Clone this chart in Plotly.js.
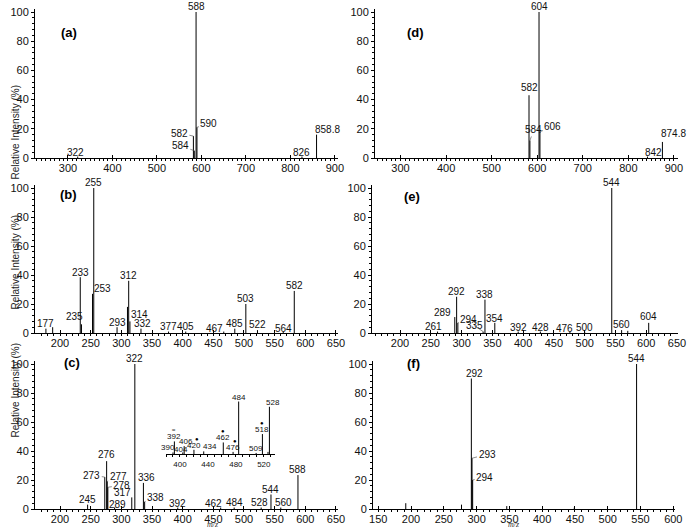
<!DOCTYPE html>
<html>
<head>
<meta charset="utf-8">
<script src="https://cdn.plot.ly/plotly-3.0.1.min.js"></script>
<style>
  body { margin: 0; background: #fff; }
  #plot { width: 691px; height: 529px; }
</style>
</head>
<body>
<div id="plot"></div>
<script>
// peak lists (m/z, relative intensity %, label)
const aMz = [322, 582, 584, 588, 590, 826, 858.8];
const aInt = [1, 15, 5, 100, 21, 1, 16];
const aLab = ['322', '582', '584', '588', '590', '826', '858.8'];

const dMz = [582, 584, 604, 606, 842, 874.8];
const dInt = [43, 12, 100, 18, 1, 11];
const dLab = ['582', '584', '604', '606', '842', '874.8'];

const bMz = [177, 188, 233, 235, 253, 255, 293, 310, 312, 314, 332, 377, 405, 467, 485, 503, 522, 564, 582];
const bInt = [3, 4, 38.5, 6, 27, 100, 4, 18, 36, 8, 3, 1, 1, 1, 3, 20, 2, 1, 29];
const bLab = ['177', '', '233', '235', '253', '255', '293', '', '312', '314', '332', '377', '405', '467', '485', '503', '522', '564', '582'];

const eMz = [261, 289, 292, 294, 335, 338, 354, 392, 428, 476, 500, 544, 560, 570, 604];
const eInt = [1, 11, 25, 7, 1, 23, 7, 1, 1, 1, 1, 100, 2, 1.5, 7];
const eLab = ['261', '289', '292', '294', '335', '338', '354', '392', '428', '476', '500', '544', '560', '', '604'];

const cMz = [245, 273, 276, 277, 278, 289, 317, 322, 336, 338, 392, 462, 484, 528, 544, 560, 588];
const cInt = [3, 22, 33, 19, 15, 1, 8, 100, 18, 5, 1, 1, 1, 1, 10, 1, 23.4];
const cLab = ['245', '273', '276', '277', '278', '289', '317', '322', '336', '338', '392', '462', '484', '528', '544', '560', '588'];

const fMz = [192, 277, 292, 293, 294, 346, 449, 544];
const fInt = [4, 3, 90, 35, 20, 2, 1, 100];
const fLab = ['', '', '292', '293', '294', '', '', '544'];

// zoomed inset of (c)
const insetMz = [390, 392, 404, 406, 420, 434, 462, 476, 484, 509, 518, 526, 528];
const insetInt = [3, 24, 3, 15, 8, 5, 22, 4, 100, 2, 38, 4, 90];
const insetLab = ['390', '392', '404', '406', '420', '434', '462', '476', '484', '509', '518', '', '528'];
const insetMarks = {'392': '\u2248', '420': '\u25CF', '462': '\u25CF', '476': '\u25CF', '518': '\u25CF'};
const insetTicks = [400, 440, 480, 520];

// label nudges in pixels: dx/dy plain shift, ax/ay = leader line
const aShift = {'322': {dx: -2, dy: -1}, '582': {ax: -14, ay: -3}, '584': {ax: -14, ay: -5}, '590': {ax: 12, ay: -4}, '826': {dy: -1}, '858.8': {dx: 11}};
const dShift = {'582': {dy: 2}, '584': {ax: 4, ay: -11}, '606': {ax: 13, ay: -5}, '842': {dx: 6, dy: -1}, '874.8': {dx: 11, dy: 3}};
const bShift = {'233': {dy: -1}, '235': {dx: -7, dy: 2}, '253': {dx: 10}, '293': {dy: -1}, '314': {dx: 10, dy: 1}, '332': {dx: 2}, '467': {dx: -9, dy: -2}, '564': {dy: -2}};
const eShift = {'261': {dx: -4}, '289': {dx: -12, dy: -1}, '294': {ax: 11, ay: -3}, '335': {ax: -9, ay: -6}, '354': {dy: -1}, '392': {dy: -1}, '428': {dy: -1}, '476': {dx: -5, dy: -2}, '500': {dy: -1}, '604': {dy: 1}};
const cShift = {'273': {ax: -13, ay: -2}, '276': {dy: 1}, '277': {ax: 11, ay: -5}, '278': {ax: 14, ay: -2}, '289': {dx: 3, dy: -2}, '317': {dx: -9, dy: -1}, '336': {dx: 3}, '338': {ax: 11, ay: -4}, '392': {dy: -1}, '462': {dx: -7, dy: -1}, '528': {dx: -2}, '560': {dx: 3}};
const fShift = {'292': {dx: 3}, '293': {ax: 15, ay: -4}, '294': {ax: 12, ay: -3}};
const insetShift = {'390': {dx: -5}, '404': {dx: -2, dy: -2}, '406': {dx: 2}, '434': {dx: 6}, '528': {dx: 4}};

const W = 691, H = 529;
const FONT = 'Arial, "Liberation Sans", sans-serif';

function xDom(l, r) { return [l / W, r / W]; }
function yDom(top, bottom) { return [1 - bottom / H, 1 - top / H]; }
function axName(p, n) { return p + (n > 1 ? n : ''); }

const panels = [
  {tag: '(a)', n: 1, mz: aMz, it: aInt, lab: aLab, shift: aShift, xr: [226, 907], xpx: [35, 338], y0: 158, y100: 12, dtick: 100, tagAt: [59, 23], ytitle: 84},
  {tag: '(d)', n: 2, mz: dMz, it: dInt, lab: dLab, shift: dShift, xr: [244, 909], xpx: [375, 678], y0: 158, y100: 12, dtick: 100, tagAt: [415, 23]},
  {tag: '(b)', n: 3, mz: bMz, it: bInt, lab: bLab, shift: bShift, xr: [159.2, 653.3], xpx: [35, 338], y0: 333, y100: 188, dtick: 50, tagAt: [58, 195], ytitle: 263},
  {tag: '(e)', n: 4, mz: eMz, it: eInt, lab: eLab, shift: eShift, xr: [154.5, 651.6], xpx: [372, 678], y0: 333, y100: 188, dtick: 50, tagAt: [412, 196]},
  {tag: '(c)', n: 5, mz: cMz, it: cInt, lab: cLab, shift: cShift, xr: [159.2, 653.3], xpx: [35, 338], y0: 509, y100: 364, dtick: 50, tagAt: [62, 372], ytitle: 440},
  {tag: '(f)', n: 6, mz: fMz, it: fInt, lab: fLab, shift: fShift, xr: [142, 602.6], xpx: [373, 675], y0: 509, y100: 364, dtick: 50, tagAt: [413, 373]}
];

function stems(mz, it, n) {
  const x = [], y = [];
  mz.forEach((m, i) => { x.push(m, m, null); y.push(0, it[i], null); });
  return {x: x, y: y, type: 'scatter', mode: 'lines', line: {color: '#000', width: 1},
          xaxis: axName('x', n), yaxis: axName('y', n), hoverinfo: 'skip'};
}

function peakNotes(mz, it, lab, shift, n, size, base) {
  const out = [];
  lab.forEach((t, i) => {
    if (!t) return;
    const s = shift[t] || {};
    const note = {x: mz[i], y: it[i], xref: axName('x', n), yref: axName('y', n), text: t,
                  font: {family: FONT, size: size, color: '#111'}};
    if (s.ax !== undefined) {
      Object.assign(note, {showarrow: true, arrowhead: 0, arrowwidth: 0.6, arrowcolor: '#444',
                           ax: s.ax, ay: s.ay, standoff: 0});
    } else {
      Object.assign(note, {showarrow: false, yanchor: 'bottom', xshift: s.dx || 0, yshift: base + (s.dy || 0)});
    }
    out.push(note);
  });
  return out;
}

const data = [];
const layout = {
  width: W, height: H,
  margin: {l: 0, r: 0, t: 0, b: 0},
  paper_bgcolor: '#fff', plot_bgcolor: 'rgba(0,0,0,0)',
  showlegend: false,
  font: {family: FONT, color: '#111'},
  annotations: []
};

const axisBase = {
  showline: true, linecolor: '#000', linewidth: 1,
  ticks: 'outside', ticklen: 3, tickcolor: '#000', tickwidth: 1,
  showgrid: false, zeroline: false, fixedrange: true,
  tickfont: {family: FONT, size: 11, color: '#111'}
};

panels.forEach(p => {
  data.push(stems(p.mz, p.it, p.n));
  const top = p.y0 - (p.y0 - p.y100) * 1.02;
  layout[axName('xaxis', p.n)] = Object.assign({}, axisBase, {
    domain: xDom(p.xpx[0], p.xpx[1]), range: p.xr, anchor: axName('y', p.n),
    tick0: 0, dtick: p.dtick, ticks: 'inside', ticklen: 3,
    minor: {ticks: 'outside', ticklen: 2, dtick: 10, tickcolor: '#000'}
  });
  layout[axName('yaxis', p.n)] = Object.assign({}, axisBase, {
    domain: yDom(top, p.y0), range: [0, 102], anchor: axName('x', p.n),
    tick0: 0, dtick: 20,
    minor: {ticks: 'outside', ticklen: 2, dtick: 4, tickcolor: '#000'}
  });
  layout.annotations.push(...peakNotes(p.mz, p.it, p.lab, p.shift, p.n, 10, -2));
  layout.annotations.push({xref: 'paper', yref: 'paper', x: p.tagAt[0] / W, y: 1 - p.tagAt[1] / H,
    text: '<b>' + p.tag + '</b>', showarrow: false, font: {family: FONT, size: 13, color: '#000'}});
  if (p.ytitle) {
    layout.annotations.push({xref: 'paper', yref: 'paper', x: 7 / W, y: 1 - p.ytitle / H,
      text: 'Relative Intensity (%)', textangle: -90, showarrow: false,
      font: {family: FONT, size: 10, color: '#222'}});
  }
});

// inset inside (c)
data.push(stems(insetMz, insetInt, 7));
layout.xaxis7 = Object.assign({}, axisBase, {
  domain: xDom(166, 275), range: [380, 536], anchor: 'y7',
  tickvals: insetTicks, ticklen: 2,
  tickfont: {family: FONT, size: 8, color: '#111'},
  minor: {ticks: 'outside', ticklen: 1.5, dtick: 10, tickcolor: '#000'}
});
layout.yaxis7 = {domain: yDom(401, 454), range: [0, 101], anchor: 'x7', visible: false, fixedrange: true};
layout.annotations.push(...peakNotes(insetMz, insetInt, insetLab, insetShift, 7, 8, -2));
Object.keys(insetMarks).forEach(t => {
  const i = insetLab.indexOf(t);
  layout.annotations.push({x: insetMz[i], y: insetInt[i], xref: 'x7', yref: 'y7', text: insetMarks[t],
    showarrow: false, yanchor: 'bottom', yshift: 6, xshift: t === '420' ? 3 : (t === '476' ? 2 : 0),
    font: {family: FONT, size: 6, color: '#000'}});
});

// m/z axis captions under the bottom row
[205, 522].forEach(cx => {
  layout.annotations.push({xref: 'paper', yref: 'paper', x: cx / W, y: 0, yanchor: 'bottom', yshift: -2,
    text: '<i>m/z</i>', showarrow: false,
    font: {family: '"Liberation Serif", "Times New Roman", serif', size: 8, color: '#333'}});
});

Plotly.newPlot('plot', data, layout, {staticPlot: true});
</script>
</body>
</html>
